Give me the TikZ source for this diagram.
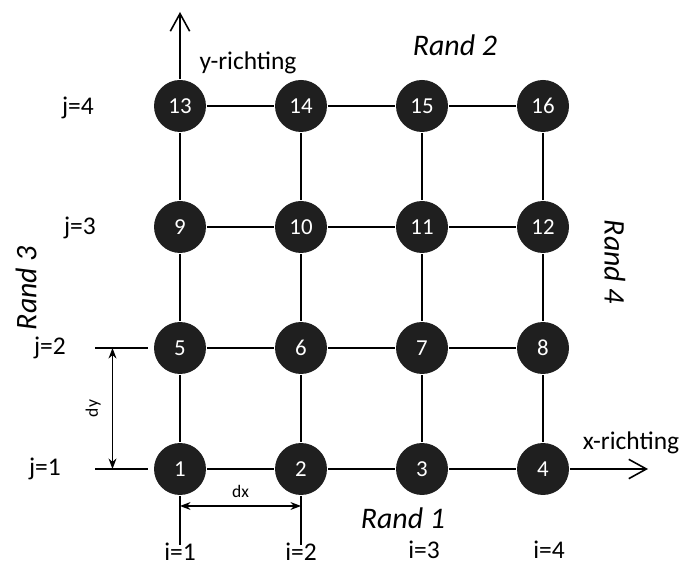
\documentclass[tikz,border=0pt]{standalone}
\usepackage{fontspec}
\setmainfont{Carlito}
\usetikzlibrary{arrows.meta,calc}

\begin{document}
\begin{tikzpicture}[x=0.02cm,y=0.02cm,line width=0.9pt,
    knoop/.style={circle,fill=black!88,text=white,minimum size=1.04cm,inner sep=0pt,
      font=\fontsize{13}{13}\selectfont},
    lbl/.style={font=\fontsize{14.5}{14.5}\selectfont},
    rand/.style={font=\fontsize{17}{17}\selectfont\itshape},
    maat/.style={line width=0.7pt,{Stealth[length=6pt,width=4.5pt]}-{Stealth[length=6pt,width=4.5pt]}},
    as/.style={-{Straight Barb[length=10pt,width=11pt]}}]
  \useasboundingbox (0,0) rectangle (682,567);
  % knooppunten
  \foreach \j in {1,...,4}
    \foreach \i in {1,...,4}{
      \pgfmathtruncatemacro{\k}{4*(\j-1)+\i}
      \node[knoop] (n\k) at ({180+121*(\i-1)},{98+121*(\j-1)}) {\k};
    }
  % verbindingen
  \foreach \a in {1,2,3,5,6,7,9,10,11,13,14,15}{
    \pgfmathtruncatemacro{\b}{\a+1}
    \draw (n\a) -- (n\b);
  }
  \foreach \a in {1,...,12}{
    \pgfmathtruncatemacro{\b}{\a+4}
    \draw (n\a) -- (n\b);
  }
  % assen
  \coordinate (ytop) at (180,555);
  \coordinate (xend) at (648,98);
  \draw[as] (n13) -- (ytop);
  \draw[as] (n4) -- (xend);
  \node[lbl] (ylab) at (248,504) {y-richting};
  \node[lbl] (xlab) at (631,124) {x-richting};
  % dy
  \coordinate (j2a) at (95,219);  \coordinate (j2b) at (148,219);
  \coordinate (j1a) at (95,98);   \coordinate (j1b) at (148,98);
  \draw[line width=0.7pt] (j2a) -- (j2b);
  \draw[line width=0.7pt] (j1a) -- (j1b);
  \draw[maat] ($(j2a)!0.33!(j2b)$) -- ($(j1a)!0.33!(j1b)$)
    node[midway,left=3pt,rotate=90,anchor=south,font=\fontsize{10}{10}\selectfont] (dylab) {dy};
  % dx
  \coordinate (i1) at ($(n1)+(0,-76)$);
  \coordinate (i2) at ($(n2)+(0,-76)$);
  \draw[line width=0.7pt] (n1) -- (i1);
  \draw[line width=0.7pt] (n2) -- (i2);
  \draw[maat] ($(n1)+(0,-37)$) -- ($(n2)+(0,-37)$)
    node[midway,above=1pt,font=\fontsize{10}{10}\selectfont] (dxlab) {dx};
  % indices
  \node[lbl] (j4) at (78,459) {j=4};
  \node[lbl] (j3) at (80,339) {j=3};
  \node[lbl] (j2) at (50,219) {j=2};
  \node[lbl] (j1) at (45,98) {j=1};
  \node[lbl,anchor=base,inner sep=0pt] (ii1) at (180,6) {i=1};
  \node[lbl,anchor=base,inner sep=0pt] (ii2) at (301,6) {i=2};
  \node[lbl,anchor=base,inner sep=0pt] (ii3) at (424,8) {i=3};
  \node[lbl,anchor=base,inner sep=0pt] (ii4) at (549,8) {i=4};
  % randen
  \node[rand] (r1) at (403,49) {Rand 1};
  \node[rand] (r2) at (455,522) {Rand 2};
  \node[rand,rotate=90] (r3) at (26,279) {Rand 3};
  \node[rand,rotate=-90] (r4) at (615,305) {Rand 4};
\end{tikzpicture}
\end{document}
